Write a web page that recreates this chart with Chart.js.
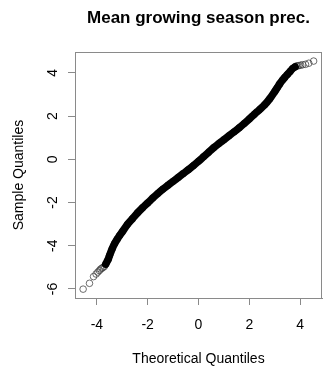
<!DOCTYPE html>
<html><head><meta charset="utf-8">
<script src="https://cdn.jsdelivr.net/npm/chart.js@4/dist/chart.umd.min.js"></script>
<style>html,body{margin:0;padding:0;background:#fff}#w{width:327px;height:371px}</style>
</head><body><div id="w"><canvas id="c" width="327" height="371"></canvas></div>
<script>
const chartTitle = "Mean growing season prec.";
const xTitle = "Theoretical Quantiles";
const yTitle = "Sample Quantiles";
const xTicks = [-4, -2, 0, 2, 4];
const yTicks = [-6, -4, -2, 0, 2, 4];
// dense central band (theoretical, sample)
const bandTheo = [-3.65,-3.55,-3.5,-3.4,-3.3,-3.2,-3.1,-3.0,-2.8,-2.6,-2.4,-2.2,-2.0,-1.8,-1.6,-1.4,-1.2,-1.0,-0.8,-0.6,-0.4,-0.2,0,0.2,0.4,0.6,0.8,1.0,1.2,1.4,1.6,1.8,2.0,2.2,2.4,2.6,2.8,3.0,3.1,3.2,3.3,3.4,3.5,3.6,3.7,3.8];
const bandSample = [-4.85,-4.62,-4.45,-4.15,-3.9,-3.7,-3.52,-3.36,-3.02,-2.75,-2.48,-2.24,-2.02,-1.79,-1.58,-1.38,-1.20,-1.02,-0.84,-0.66,-0.48,-0.29,-0.09,0.12,0.33,0.54,0.73,0.91,1.09,1.27,1.46,1.66,1.87,2.09,2.30,2.52,2.80,3.14,3.32,3.50,3.66,3.80,3.93,4.06,4.20,4.28];
// sparse tails
const tailTheo = [-4.54,-4.29,-4.13,-4.03,-3.96,-3.9,-3.85,-3.8,-3.75,-3.7,3.85,3.9,3.95,4.02,4.1,4.21,4.34,4.53];
const tailSample = [-6.01,-5.74,-5.43,-5.31,-5.22,-5.15,-5.08,-5.04,-5.0,-4.95,4.32,4.33,4.34,4.36,4.38,4.40,4.45,4.55];

const FONT = "'Liberation Sans', Arial, Helvetica, sans-serif";
const band = bandTheo.map((x,i)=>({x, y: bandSample[i]}));
const tail = tailTheo.map((x,i)=>({x, y: tailSample[i]}));

const boxPlugin = {
  id: 'box',
  afterDraw(chart) {
    const {ctx, chartArea: a} = chart;
    ctx.save();
    ctx.strokeStyle = '#8a8a8a'; ctx.lineWidth = 1;
    ctx.strokeRect(a.left + 0.5, a.top + 0.5, a.right - a.left - 1, a.bottom - a.top);
    ctx.fillStyle = '#000';
    ctx.font = "bold 17px " + FONT;
    ctx.textAlign = 'center'; ctx.textBaseline = 'middle';
    ctx.fillText(chartTitle, (a.left + a.right) / 2, 18);
    ctx.restore();
  }
};

new Chart(document.getElementById('c'), {
  type: 'scatter',
  data: { datasets: [
    { label: 'band', data: band, showLine: true, borderColor: '#000', borderWidth: 7.5,
      borderCapStyle: 'round', borderJoinStyle: 'round', tension: 0.3,
      pointRadius: 3.3, pointBorderWidth: 1, pointBorderColor: 'rgba(0,0,0,0.7)', pointBackgroundColor: 'rgba(0,0,0,0)' },
    { label: 'tail', data: tail, showLine: false,
      pointRadius: 3.3, pointBorderWidth: 1, pointBorderColor: 'rgba(60,60,60,0.75)', pointBackgroundColor: 'rgba(0,0,0,0)' }
  ]},
  options: {
    responsive: false, animation: false, devicePixelRatio: 1,
    layout: { padding: { top: 52, right: 0, left: 0, bottom: 0 } },
    plugins: { legend: { display: false }, tooltip: { enabled: false }, title: { display: false } },
    scales: {
      x: {
        type: 'linear', min: -4.86, max: 4.86,
        afterBuildTicks: s => { s.ticks = xTicks.map(v => ({ value: v })); },
        afterFit: s => { s.height = 73; },
        grid: { drawOnChartArea: false, drawTicks: true, tickLength: 7, color: '#8a8a8a', tickColor: '#8a8a8a' },
        border: { display: true, color: '#8a8a8a' },
        ticks: { color: '#000', font: { family: FONT, size: 14 }, padding: 12, maxRotation: 0, callback: v => String(v) },
        title: { display: true, text: xTitle, color: '#000', font: { family: FONT, size: 14 }, padding: { top: 0, bottom: 3 } }
      },
      y: {
        type: 'linear', min: -6.42, max: 4.97,
        afterBuildTicks: s => { s.ticks = yTicks.map(v => ({ value: v })); },
        afterFit: s => { s.width = 75; },
        grid: { drawOnChartArea: false, drawTicks: true, tickLength: 7, color: '#8a8a8a', tickColor: '#8a8a8a' },
        border: { display: true, color: '#8a8a8a' },
        ticks: { color: '#000', font: { family: FONT, size: 14 }, padding: 9, minRotation: 90, maxRotation: 90, crossAlign: 'center', callback: v => String(v) },
        title: { display: true, text: yTitle, color: '#000', font: { family: FONT, size: 14 }, padding: { top: 11, bottom: 0 } }
      }
    }
  },
  plugins: [boxPlugin]
});
</script></body></html>
